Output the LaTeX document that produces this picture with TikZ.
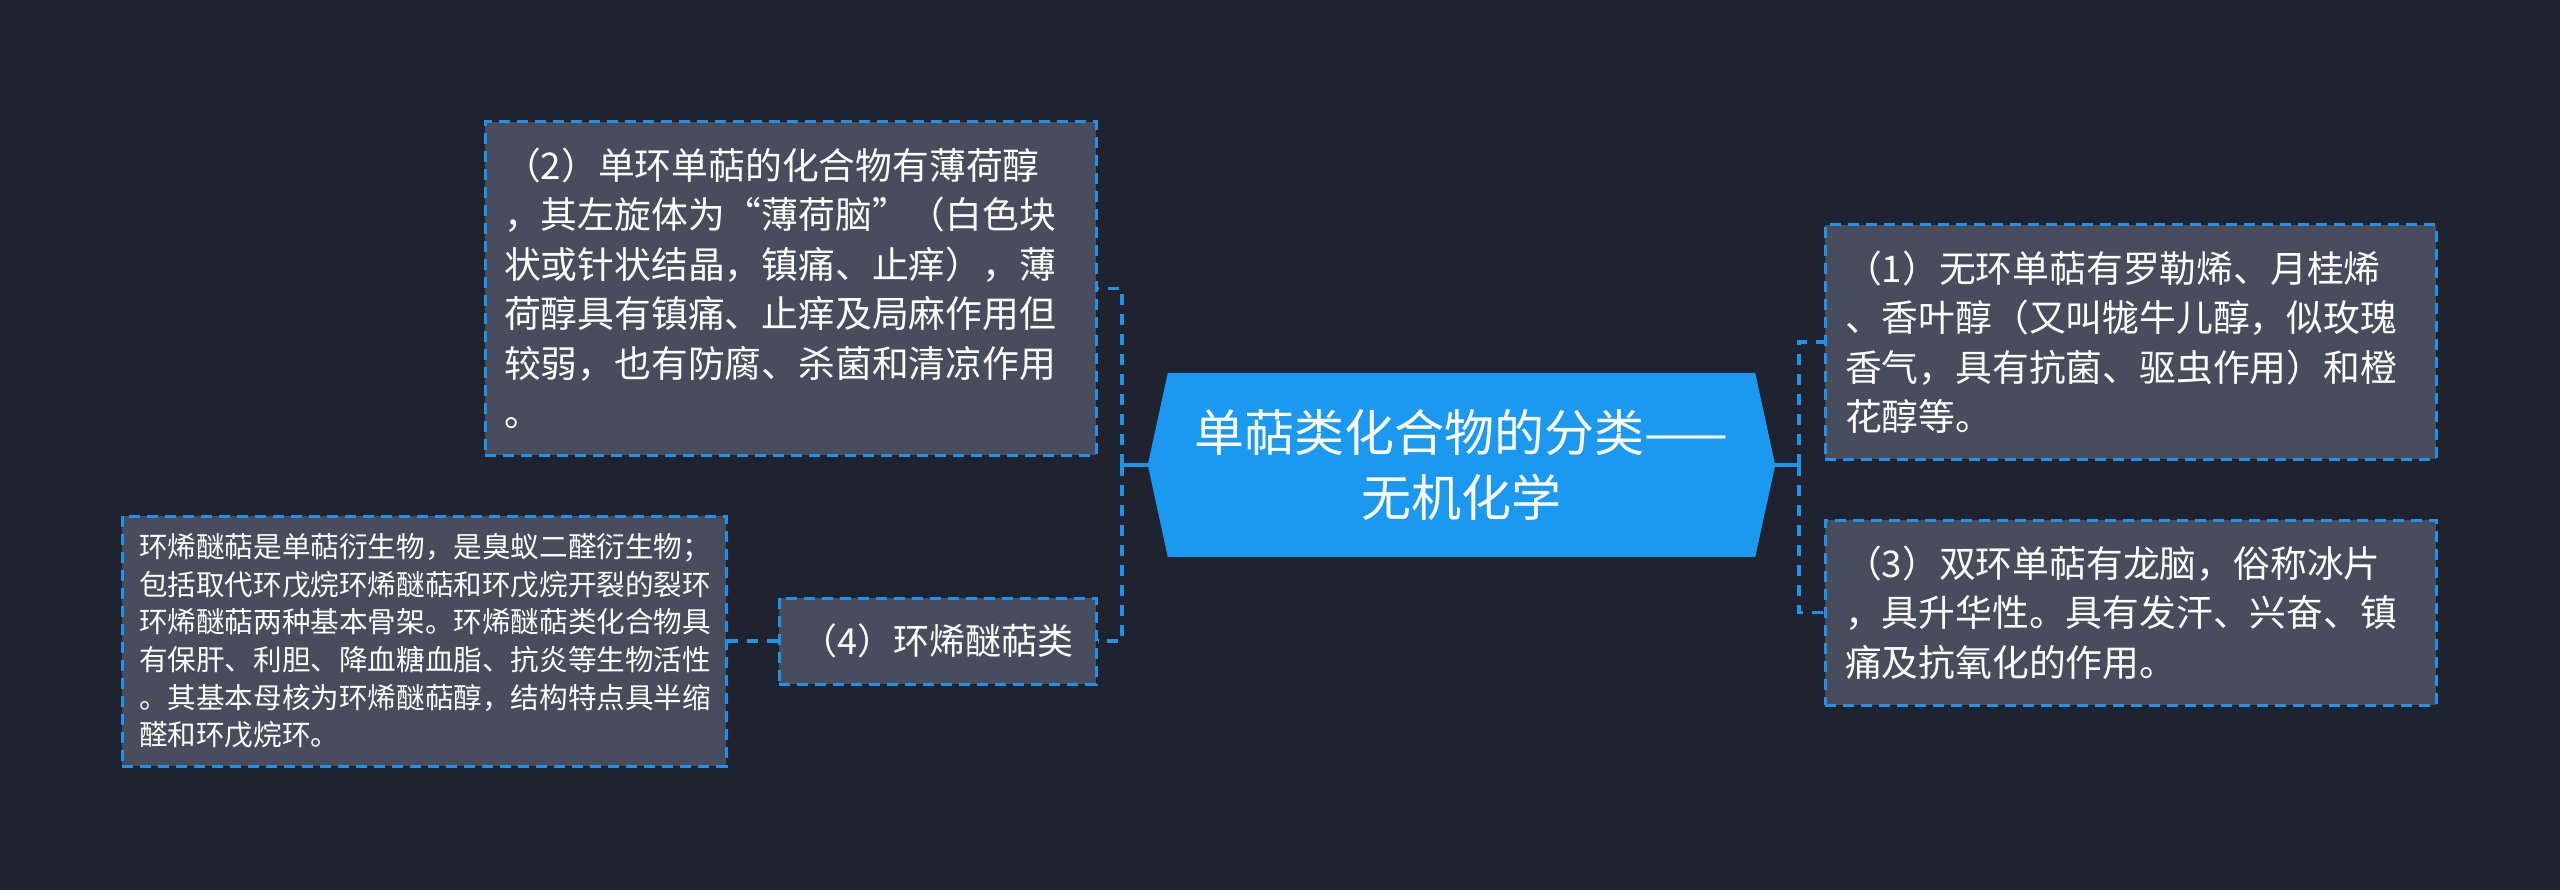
\documentclass[tikz,border=0pt]{standalone}
\usepackage{fontspec}
\setmainfont{Noto Sans CJK SC}
\usetikzlibrary{backgrounds}
\definecolor{bgc}{HTML}{1F2330}
\definecolor{boxfill}{HTML}{474D5C}
\definecolor{lineblue}{HTML}{1F93EA}
\definecolor{centerfill}{HTML}{1B98F0}
\tikzset{
  leaf/.style={draw=lineblue, line width=3pt, dash pattern=on 11pt off 7pt, fill=boxfill, text=white,
    inner ysep=0pt, align=left, font=\fontsize{36.8pt}{49.5pt}\selectfont},
  conn/.style={draw=lineblue, line width=3.5pt},
  dconn/.style={conn, dash pattern=on 11pt off 9pt},
}
\begin{document}
\begin{tikzpicture}[x=1pt,y=-1pt]
\begin{scope}[on background layer]
\fill[bgc] (0,0) rectangle (2560,890);
\end{scope}
\useasboundingbox (0,0) rectangle (2560,890);

% center node
\node[text=white, align=center, minimum width=627pt, minimum height=184pt, inner sep=0pt,
  font=\fontsize{50pt}{65pt}\selectfont] (c) at (1461.5,465) {单萜类化合物的分类——\\无机化学};
\begin{scope}[on background layer]
\fill[centerfill] (c.west) -- ([xshift=20pt]c.north west) -- ([xshift=-20pt]c.north east) -- (c.east)
  -- ([xshift=-20pt]c.south east) -- ([xshift=20pt]c.south west) -- cycle;
\end{scope}

% left children
\node[leaf, minimum width=611pt, minimum height=333pt, inner xsep=19pt, text width=573pt] (b2) at (790.5,288.5)
 {（2）单环单萜的化合物有薄荷醇\\，其左旋体为“薄荷脑”（白色块\\状或针状结晶，镇痛、止痒），薄\\荷醇具有镇痛、止痒及局麻作用但\\较弱，也有防腐、杀菌和清凉作用\\。};
\node[leaf, minimum width=317pt, minimum height=86pt, inner xsep=0pt, align=center, font=\fontsize{36pt}{45pt}\selectfont] (b4) at (937.5,641)
 {（4）环烯醚萜类};
\node[leaf, minimum width=604pt, minimum height=250pt, inner xsep=17pt, text width=570pt,
  font=\fontsize{28.6pt}{37.6pt}\selectfont] (d) at (424,641)
 {环烯醚萜是单萜衍生物，是臭蚁二醛衍生物；\\包括取代环戊烷环烯醚萜和环戊烷开裂的裂环\\环烯醚萜两种基本骨架。环烯醚萜类化合物具\\有保肝、利胆、降血糖血脂、抗炎等生物活性\\。其基本母核为环烯醚萜醇，结构特点具半缩\\醛和环戊烷环。};

% right children
\node[leaf, minimum width=611pt, minimum height=234pt, inner xsep=20pt, text width=571pt] (b1) at (2130.5,342)
 {（1）无环单萜有罗勒烯、月桂烯\\、香叶醇（又叫牻牛儿醇，似玫瑰\\香气，具有抗菌、驱虫作用）和橙\\花醇等。};
\node[leaf, minimum width=611pt, minimum height=185pt, inner xsep=20pt, text width=571pt] (b3) at (2130.5,612.5)
 {（3）双环单萜有龙脑，俗称冰片\\，具升华性。具有发汗、兴奋、镇\\痛及抗氧化的作用。};

% connectors
\coordinate (jl) at (1122,465);
\coordinate (jr) at (1799,465);
\draw[conn] (c.west) -- (jl);
\draw[conn] (c.east) -- (jr);
\draw[dconn] (jl) |- (b2.east);
\draw[dconn] (jl) |- (b4.east);
\draw[dconn] (jr) |- (b1.west);
\draw[dconn] (jr) |- (b3.west);
\draw[dconn] (b4.west) -- (d.east);
\end{tikzpicture}
\end{document}
